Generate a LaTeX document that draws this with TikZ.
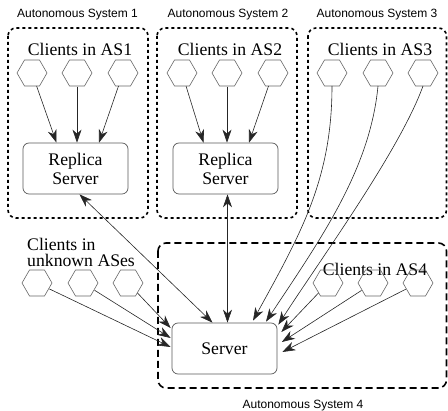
\documentclass[tikz,border=0pt]{standalone}
\usepackage{fontspec}
\setmainfont{Liberation Serif}
\newfontfamily\asfont{Liberation Sans}
\usetikzlibrary{shapes.geometric,arrows.meta,calc}
\tikzset{
  hex/.style={circle, draw=none, minimum size=27pt, inner sep=0pt},
  hexline/.style={draw=black!60, line width=0.6pt},
  srv/.style={draw=black!65, line width=0.7pt, rounded corners=6pt, minimum width=105pt, minimum height=51pt, align=center, inner sep=0pt, font=\fontsize{17.7}{19}\selectfont},
  clab/.style={font=\fontsize{17.7}{16}\selectfont, inner sep=0pt},
  aslab/.style={font=\asfont\fontsize{12}{14}\selectfont, inner sep=0pt},
  dotbox/.style={draw=black, line width=1.6pt, dash pattern=on 3pt off 3pt, rounded corners=8pt},
  dashbox/.style={draw=black, line width=1.6pt, dash pattern=on 7pt off 4pt, rounded corners=8pt},
  arr/.style={draw=black!85, line width=0.6pt, -{Stealth[length=13pt,width=9pt,inset=4pt]}},
  dbl/.style={draw=black!85, line width=0.6pt, {Stealth[length=13pt,width=9pt,inset=4pt]}-{Stealth[length=13pt,width=9pt,inset=4pt]}}
}
\begin{document}
\begin{tikzpicture}[x=1pt,y=-1pt]
\useasboundingbox (0,0) rectangle (448,411);
% autonomous system containers
\draw[dotbox] (8,28) rectangle (148,218);
\draw[dotbox] (157,28) rectangle (297,218);
\draw[dotbox] (308,28) rectangle (446.5,218);
\draw[dashbox] (158,243) rectangle (446.5,388);
\node[aslab] (l1) at (77.5,15) {Autonomous System 1};
\node[aslab] (l2) at (228,15) {Autonomous System 2};
\node[aslab] (l3) at (377,15) {Autonomous System 3};
\node[aslab] (l4) at (303,406) {Autonomous System 4};
% client labels
\node[clab] (c1) at (80,49) {Clients in AS1};
\node[clab] (c2) at (230,49) {Clients in AS2};
\node[clab] (c3) at (380,49) {Clients in AS3};
\node[clab] (c4) at (375,269) {Clients in AS4};
\node[clab, align=left, anchor=west] (cu) at (27,252) {Clients in\\unknown ASes};
% hexagons (clients)
\node[hex] (h11) at (32,73) {};
\node[hex] (h12) at (77,73) {};
\node[hex] (h13) at (123,73) {};
\node[hex] (h21) at (182,73) {};
\node[hex] (h22) at (227,73) {};
\node[hex] (h23) at (273,73) {};
\node[hex] (h31) at (332,73) {};
\node[hex] (h32) at (378,73) {};
\node[hex] (h33) at (423,73) {};
\node[hex] (hu1) at (37,283) {};
\node[hex] (hu2) at (83,283) {};
\node[hex] (hu3) at (128,283) {};
\node[hex] (h41) at (328,283) {};
\node[hex] (h42) at (373,283) {};
\node[hex] (h43) at (418,283) {};
\foreach \n in {h11,h12,h13,h21,h22,h23,h31,h32,h33,hu1,hu2,hu3,h41,h42,h43}
  \draw[hexline] ($(\n.center)+(-15,0)$) -- ++(7.5,-13) -- ++(15,0) -- ++(7.5,13) -- ++(-7.5,13) -- ++(-15,0) -- cycle;
% servers
\node[srv] (rep1) at (75.5,168.5) {Replica\\Server};
\node[srv] (rep2) at (225.5,168.5) {Replica\\Server};
\node[srv] (server) at (224.5,348.5) {Server};
% AS1 arrows
\draw[arr] (h11) -- ($(rep1.north)+(-19,0)$);
\draw[arr] (h12) -- (h12 |- rep1.north);
\draw[arr] (h13) -- ($(rep1.north)+(23.5,0)$);
% AS2 arrows
\draw[arr] (h21) -- ($(rep2.north)+(-22,0)$);
\draw[arr] (h22) -- (h22 |- rep2.north);
\draw[arr] (h23) -- ($(rep2.north)+(23.5,0)$);
% replica <-> server
\draw[dbl] ($(rep1.south)+(4,0)$) -- ($(server.north)+(-12,0)$);
\draw[dbl] ($(rep2.south)+(2,0)$) -- ($(server.north)+(3,0)$);
% AS3 curves
\draw[arr] ($(h31.center)+(0,13)$) .. controls (332,180) and (300,235) .. ($(server.north)+(28.5,-2)$);
\draw[arr] ($(h32.center)+(0,13)$) .. controls (370,170) and (320,240) .. ($(server.north)+(41.5,-1)$);
\draw[arr] ($(h33.center)+(0,13)$) .. controls (400,150) and (320,260) .. ($(server.north east)+(1,2)$);
% unknown ASes
\draw[arr] (hu1) -- ($(server.west)+(-1,-1.5)$);
\draw[arr] (hu2) -- ($(server.west)+(-1,-10.5)$);
\draw[arr] (hu3) -- ($(server.west)+(-1,-20.5)$);
% AS4
\draw[arr] (h41) -- ($(server.east)+(4,-16.5)$);
\draw[arr] (h42) -- ($(server.east)+(4.5,-6.5)$);
\draw[arr] (h43) -- ($(server.east)+(5,3.5)$);
\end{tikzpicture}
\end{document}
